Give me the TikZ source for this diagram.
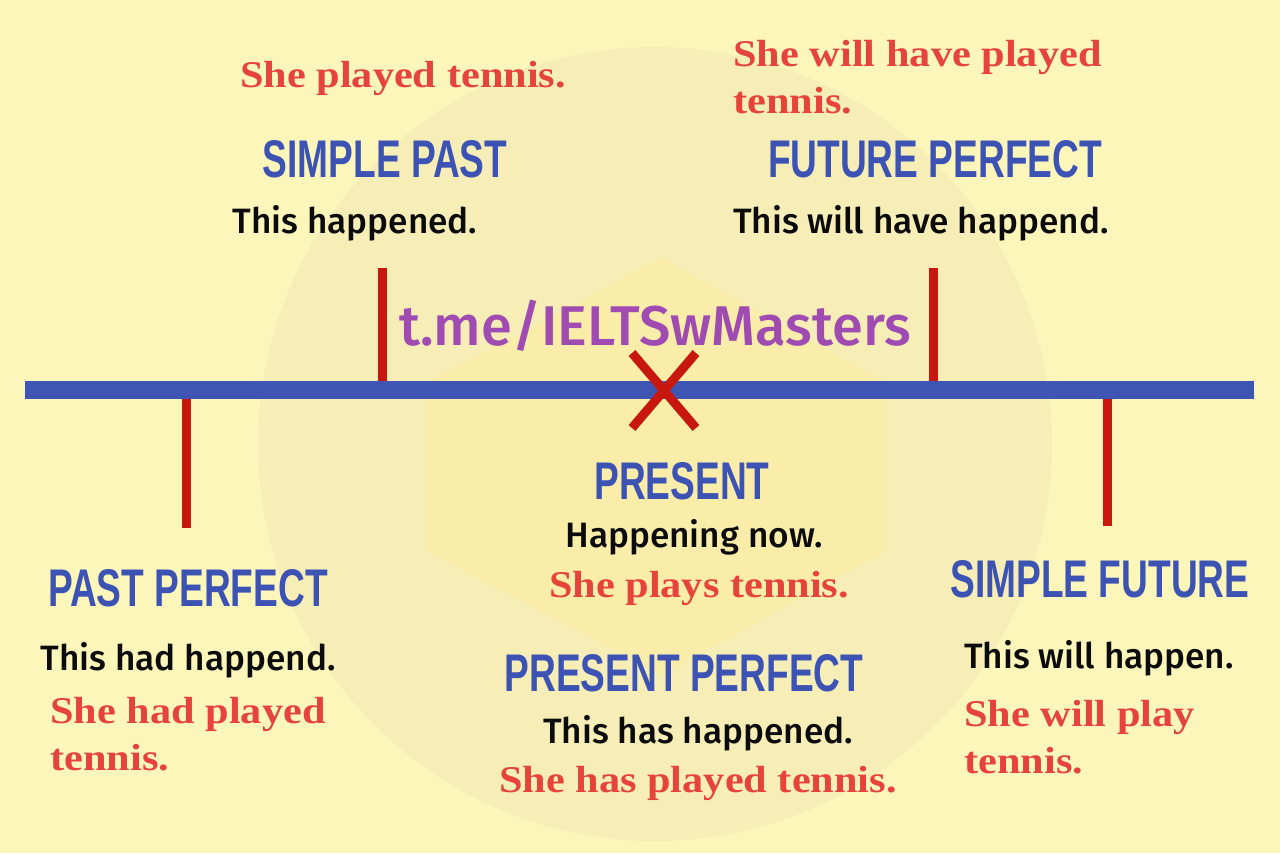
\documentclass[tikz,border=0pt]{standalone}
\usepackage{fontspec}
\setmainfont{Fira Sans}
\newfontfamily\headfont{Liberation Sans}[FakeStretch=0.70]
\newfontfamily\slabfont{Liberation Serif}[FakeStretch=1.12]
\newfontfamily\notefont{Fira Sans Medium}
\newfontfamily\chalkfont{Fira Sans Medium}
\usetikzlibrary{positioning,calc}
\definecolor{paper}{HTML}{FCF6BA}
\definecolor{halo}{HTML}{F6EEB6}
\definecolor{badge}{HTML}{FAEDAA}
\definecolor{lineblue}{HTML}{3E55B4}
\definecolor{tenseblue}{HTML}{3C53B3}
\definecolor{tickred}{HTML}{C8170E}
\definecolor{exred}{HTML}{E6443B}
\definecolor{ink}{HTML}{0B0B0B}
\definecolor{brandpurple}{HTML}{A04BB1}

\begin{document}
\begin{tikzpicture}[x=0.5pt,y=-0.5pt,
  tense/.style={font=\headfont\bfseries\fontsize{26.5}{30}\selectfont, text=tenseblue, inner sep=0pt, anchor=base},
  gloss/.style={font=\notefont\fontsize{17.6}{22}\selectfont, text=ink, inner sep=0pt, anchor=base},
  example/.style={font=\slabfont\bfseries\fontsize{18.9}{23.5}\selectfont, text=exred, inner sep=0pt, anchor=base},
  tickmark/.style={draw=tickred, line width=4.5pt},
]
\def\liney{390}
% --- background, watermark ---
\fill[paper] (0,0) rectangle (1280,853);
\useasboundingbox (0,0) rectangle (1280,853);
\fill[halo] (655,444) circle[radius=397];
\fill[badge] (662,258) -- (887,383) -- (887,550) -- (662,675) -- (426,550) -- (426,383) -- cycle;
% --- time line ---
\coordinate (tl) at (25,\liney);
\coordinate (tr) at (1254,\liney);
\draw[lineblue, line width=9pt] (tl) -- (tr);
\foreach \x in {382,933} {
  \draw[tickmark] (\x,268) -- (\x,381);
}
\foreach \x/\y in {186/528,1107/526} {
  \draw[tickmark] (\x,399) -- (\x,\y);
}
% now
\coordinate (now) at (664,\liney);
\draw[tickmark] ($(now)+(-32,-37)$) -- ($(now)+(32,38)$);
\draw[tickmark] ($(now)+(-32,38)$) -- ($(now)+(32,-37)$);
\node[font=\chalkfont\fontsize{28}{30}\selectfont, text=brandpurple, inner sep=0pt, anchor=base] (brand) at (655,345) {t.me/IELTSwMasters};
% --- above the line ---
\node[example] (exspast) at (403,87) {She played tennis.};
\node[tense] (spast) at (385,177) {SIMPLE PAST};
\node[gloss] (glspast) at (355,233) {This happened.};
\node[example, anchor=north west, align=left] (exfperf) at (733,40) {She will have played\\tennis.};
\node[tense] (fperf) at (935,177) {FUTURE PERFECT};
\node[gloss] (glfperf) at (921,233) {This will have happend.};
% --- below the line ---
\node[tense] (pres) at (682,499) {PRESENT};
\node[gloss] (glpres) at (694,547) {Happening now.};
\node[example] (expres) at (699,597) {She plays tennis.};
\node[tense] (pperf) at (684,691) {PRESENT PERFECT};
\node[gloss] (glpperf) at (698,743) {This has happened.};
\node[example] (expperf) at (698,792) {She has played tennis.};
\node[tense] (paperf) at (188,606) {PAST PERFECT};
\node[gloss] (glpaperf) at (188,670) {This had happend.};
\node[example, anchor=north west, align=left] (expaperf) at (50,697) {She had played\\tennis.};
\node[tense] (sfut) at (1100,597) {SIMPLE FUTURE};
\node[gloss] (glsfut) at (1099,668) {This will happen.};
\node[example, anchor=north west, align=left] (exsfut) at (964,700) {She will play\\tennis.};
\end{tikzpicture}
\end{document}
